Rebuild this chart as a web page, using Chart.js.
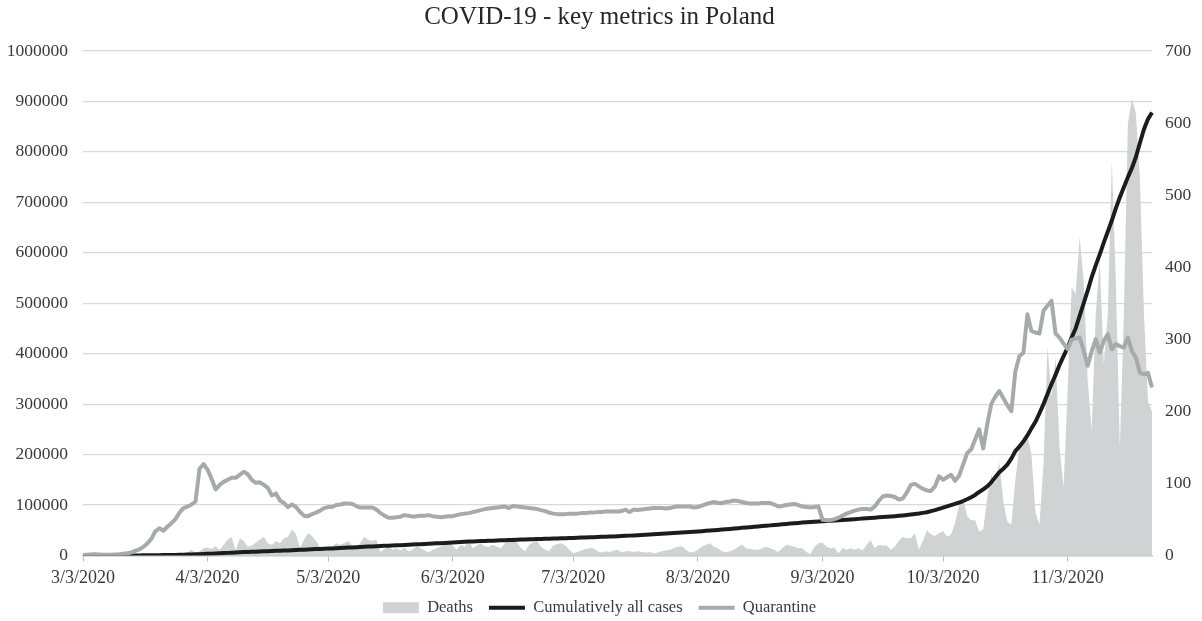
<!DOCTYPE html>
<html>
<head>
<meta charset="utf-8">
<title>COVID-19 - key metrics in Poland</title>
<script src="https://cdn.jsdelivr.net/npm/chart.js@4.4.1/dist/chart.umd.min.js"></script>
<style>
    html, body { margin: 0; padding: 0; background: #fff; }
    #wrap { width: 1202px; height: 621px; position: relative; }
</style>
</head>
<body>
<div id="wrap"><canvas id="covidChart"></canvas></div>
<script>
// Daily series, one value per day starting 3/3/2020
const deaths = [
    0, 0, 0, 0, 0, 0, 0, 0, 0, 1,
    1, 0, 1, 0, 2, 0, 1, 2, 1, 2,
    2, 3, 2, 3, 2, 2, 4, 8, 3, 6,
    10, 11, 9, 13, 8, 15, 22, 26, 7, 24,
    20, 12, 14, 18, 22, 26, 17, 15, 20, 17,
    24, 26, 36, 30, 10, 22, 31, 27, 20, 11,
    6, 8, 12, 17, 15, 17, 20, 14, 9, 18,
    26, 22, 20, 22, 5, 9, 12, 8, 10, 7,
    11, 6, 8, 13, 10, 7, 4, 8, 10, 12,
    15, 21, 14, 8, 15, 12, 20, 10, 14, 17,
    13, 12, 15, 12, 10, 17, 20, 26, 18, 10,
    6, 15, 18, 20, 12, 8, 6, 14, 16, 17,
    14, 8, 3, 5, 7, 9, 10, 10, 6, 4,
    6, 5, 7, 8, 4, 6, 6, 5, 6, 5,
    4, 5, 3, 4, 6, 7, 8, 10, 12, 13,
    8, 4, 5, 8, 12, 15, 17, 12, 10, 6,
    4, 6, 8, 12, 15, 10, 9, 8, 8, 10,
    12, 10, 8, 5, 10, 15, 14, 12, 10, 10,
    5, 2, 12, 17, 18, 12, 10, 11, 3, 10,
    8, 10, 8, 10, 7, 15, 21, 10, 15, 14,
    14, 8, 12, 20, 26, 24, 24, 31, 8, 20,
    35, 29, 27, 31, 34, 26, 29, 45, 70, 78,
    55, 49, 49, 33, 36, 80, 112, 100, 130, 75,
    47, 43, 105, 150, 160, 168, 140, 60, 43, 126,
    290, 220, 275, 150, 94, 228, 372, 363, 442, 381,
    242, 173, 335, 409, 265, 335, 548, 381, 149, 335,
    599, 634, 613, 521, 335, 214, 200
];

const cumulativeCases = [
    0, 1, 1, 5, 6, 11, 17, 22, 31, 49,
    68, 103, 119, 177, 238, 251, 355, 425, 536, 634,
    749, 901, 1051, 1221, 1389, 1638, 1862, 2055, 2311, 2554,
    2946, 3383, 3700, 4100, 4400, 4850, 5200, 5600, 5950, 6350,
    6700, 6950, 7200, 7600, 7900, 8250, 8600, 8950, 9300, 9600,
    9850, 10150, 10500, 10900, 11250, 11600, 11900, 12200, 12650, 12900,
    13300, 13700, 14100, 14500, 14900, 15300, 15700, 16000, 16400, 16800,
    17200, 17600, 18000, 18400, 18800, 19200, 19500, 19800, 20100, 20500,
    20900, 21300, 21700, 22100, 22500, 22900, 23300, 23700, 24100, 24500,
    24900, 25400, 25900, 26400, 26800, 27200, 27600, 27900, 28200, 28500,
    28800, 29100, 29400, 29700, 30000, 30300, 30600, 30900, 31200, 31500,
    31800, 32000, 32300, 32600, 32900, 33100, 33400, 33600, 33900, 34100,
    34400, 34600, 34900, 35200, 35500, 35800, 36100, 36400, 36700, 37000,
    37300, 37600, 37900, 38200, 38600, 39000, 39400, 39800, 40200, 40600,
    41000, 41400, 41900, 42400, 42900, 43400, 43900, 44400, 44900, 45400,
    45900, 46500, 47100, 47700, 48300, 48900, 49500, 50100, 50700, 51300,
    52000, 52700, 53400, 54100, 54800, 55500, 56200, 56900, 57600, 58300,
    59000, 59700, 60400, 61100, 61800, 62500, 63200, 63900, 64600, 65300,
    65900, 66500, 67000, 67500, 68000, 68500, 69000, 69500, 70000, 70500,
    71000, 71500, 72000, 72600, 73200, 73800, 74400, 75000, 75600, 76200,
    76800, 77400, 78000, 78700, 79500, 80400, 81300, 82300, 83300, 84500,
    85700, 88000, 90000, 92500, 95000, 97500, 100000, 102500, 105000, 108000,
    111500, 115500, 120000, 126000, 131000, 137000, 145000, 155000, 165000, 172000,
    180000, 192000, 207000, 216000, 226000, 238000, 252000, 265000, 282000, 300000,
    320000, 340000, 358000, 378000, 395000, 412000, 432000, 450000, 475000, 500000,
    525000, 552000, 575000, 597000, 620000, 642000, 664000, 688000, 710000, 730000,
    750000, 768000, 790000, 818000, 845000, 865000, 878000
];

const quarantine = [
    1000, 1500, 2000, 2500, 2000, 1500, 1500, 1500, 2000, 2500,
    3500, 4500, 6000, 9000, 12000, 17000, 24000, 33000, 48000, 54000,
    49000, 57000, 64000, 72000, 85000, 94000, 97000, 101000, 107000, 172000,
    181000, 170000, 152000, 131000, 140000, 146000, 150000, 154000, 154000, 160000,
    166000, 161000, 150000, 144000, 145000, 140000, 134000, 119000, 123000, 109000,
    104000, 96000, 101000, 96000, 86000, 79000, 78000, 82000, 85000, 89000,
    94000, 96000, 96000, 100000, 101000, 103000, 103000, 102000, 98000, 95000,
    95000, 95000, 95000, 91000, 84000, 79000, 75000, 75000, 76000, 77000,
    80000, 79000, 77000, 78000, 79000, 79000, 80000, 78000, 77000, 76000,
    77000, 78000, 78000, 80000, 82000, 83000, 84000, 86000, 88000, 90000,
    92000, 93000, 94000, 95000, 96000, 97000, 94000, 98000, 97000, 96000,
    95000, 94000, 93000, 92000, 90000, 88000, 85000, 83000, 82000, 82000,
    82000, 83000, 83000, 83000, 84000, 84000, 85000, 85000, 86000, 86000,
    87000, 87000, 87000, 87000, 88000, 91000, 86000, 91000, 90000, 91000,
    92000, 93000, 94000, 94000, 94000, 93000, 94000, 96000, 97000, 97000,
    97000, 97000, 95000, 96000, 99000, 102000, 104000, 106000, 104000, 104000,
    106000, 107000, 109000, 108000, 106000, 104000, 103000, 103000, 103000, 104000,
    104000, 104000, 101000, 97000, 98000, 100000, 101000, 102000, 100000, 97000,
    96000, 95000, 96000, 97000, 71000, 70000, 70000, 72000, 75000, 79000,
    83000, 86000, 89000, 91000, 92000, 92000, 91000, 97000, 108000, 117000,
    119000, 118000, 116000, 111000, 113000, 125000, 140000, 142000, 137000, 132000,
    129000, 128000, 137000, 157000, 150000, 155000, 160000, 148000, 158000, 180000,
    203000, 210000, 230000, 250000, 212000, 260000, 300000, 315000, 326000, 312000,
    298000, 286000, 365000, 395000, 402000, 478000, 445000, 442000, 440000, 485000,
    495000, 505000, 440000, 432000, 420000, 409000, 428000, 430000, 432000, 406000,
    376000, 405000, 429000, 402000, 425000, 439000, 409000, 419000, 415000, 412000,
    432000, 405000, 392000, 362000, 359000, 362000, 333000
];

// Only these dates get a label and a tick mark on the x axis
const monthTicks = [
    '3/3/2020', '4/3/2020', '5/3/2020', '6/3/2020', '7/3/2020',
    '8/3/2020', '9/3/2020', '10/3/2020', '11/3/2020'
];

// m/d/yyyy labels for every day of the series
const dayLabels = deaths.map((_, i) => {
    const d = new Date(2020, 2, 3 + i);
    return `${d.getMonth() + 1}/${d.getDate()}/${d.getFullYear()}`;
});

const SERIF = '"Liberation Serif", "Times New Roman", serif';
const TEXT_COLOR = '#3a3a3a';

function buildChart() {
    Chart.defaults.font.family = SERIF;
    Chart.defaults.color = TEXT_COLOR;

    const ctx = document.getElementById('covidChart').getContext('2d');
    return new Chart(ctx, {
        type: 'line',
        data: {
            labels: dayLabels,
            datasets: [
                {
                    label: 'Deaths',
                    data: deaths,
                    yAxisID: 'y1',
                    fill: 'origin',
                    backgroundColor: '#d1d2d4',
                    borderColor: '#d1d2d4',
                    borderWidth: 0,
                    pointRadius: 0,
                    pointStyle: 'rect',
                    tension: 0,
                    order: 3
                },
                {
                    label: 'Cumulatively all cases',
                    data: cumulativeCases,
                    yAxisID: 'y',
                    fill: false,
                    borderColor: '#1c1c1c',
                    borderWidth: 4,
                    borderJoinStyle: 'round',
                    pointRadius: 0,
                    pointStyle: 'line',
                    tension: 0,
                    order: 2
                },
                {
                    label: 'Quarantine',
                    data: quarantine,
                    yAxisID: 'y',
                    fill: false,
                    borderColor: '#a8a9ab',
                    borderWidth: 4,
                    borderJoinStyle: 'round',
                    pointRadius: 0,
                    pointStyle: 'line',
                    tension: 0,
                    order: 1
                }
            ]
        },
        options: {
            responsive: true,
            maintainAspectRatio: false,
            animation: false,
            // bottom is negative so the legend row sits a little lower
            layout: { padding: { left: 8, right: 11, top: 0, bottom: -5 } },
            plugins: {
                title: {
                    display: true,
                    text: 'COVID-19 - key metrics in Poland',
                    color: '#262626',
                    font: { family: SERIF, size: 25, weight: 'normal' },
                    padding: { top: 2, bottom: 19 }
                },
                legend: {
                    position: 'bottom',
                    labels: {
                        usePointStyle: true,
                        pointStyleWidth: 36,
                        boxHeight: 11,
                        padding: 16,
                        color: TEXT_COLOR,
                        font: { family: SERIF, size: 16.5 },
                        sort: (a, b) => a.datasetIndex - b.datasetIndex
                    }
                },
                tooltip: { enabled: false }
            },
            scales: {
                x: {
                    type: 'category',
                    afterFit: s => { s.height = 28; },
                    grid: {
                        drawOnChartArea: false,
                        drawTicks: true,
                        tickLength: 6,
                        color: '#bfbfbf'
                    },
                    border: { display: true, color: '#c9c9c9', width: 1.5 },
                    ticks: {
                        autoSkip: false,
                        maxRotation: 0,
                        padding: 8,
                        font: { family: SERIF, size: 18, lineHeight: 1 },
                        callback(value) {
                            const label = this.getLabelForValue(value);
                            return monthTicks.includes(label) ? label : null;
                        }
                    }
                },
                y: {
                    position: 'left',
                    min: 0,
                    max: 1000000,
                    afterFit: s => { s.width = 75; },
                    grid: { color: '#d9d9d9', lineWidth: 1.3, drawTicks: false },
                    border: { display: false },
                    ticks: {
                        stepSize: 100000,
                        padding: 15,
                        font: { family: SERIF, size: 17.5 },
                        callback: v => String(v)
                    }
                },
                y1: {
                    position: 'right',
                    min: 0,
                    max: 700,
                    afterFit: s => { s.width = 39; },
                    grid: { drawOnChartArea: false, drawTicks: false },
                    border: { display: false },
                    ticks: {
                        stepSize: 100,
                        padding: 13,
                        font: { family: SERIF, size: 17.5 },
                        callback: v => String(v)
                    }
                }
            }
        }
    });
}

window.onload = () => buildChart();
</script>
</body>
</html>
